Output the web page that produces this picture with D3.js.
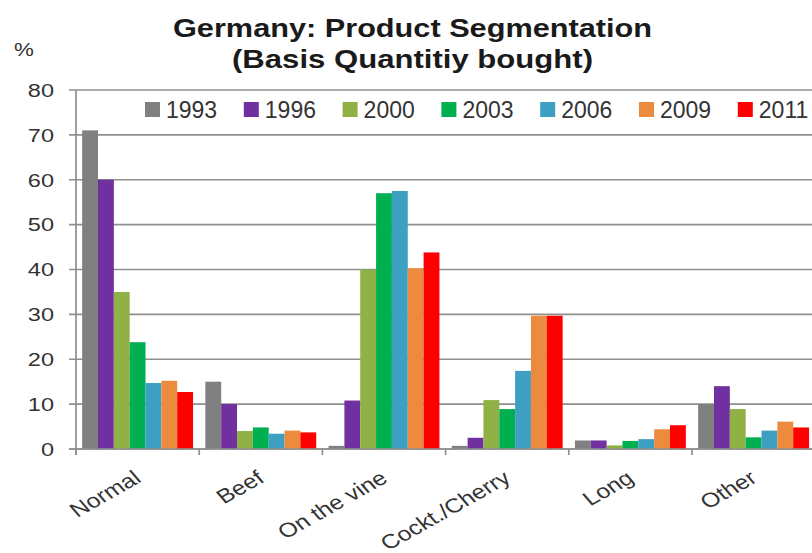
<!DOCTYPE html>
<html>
<head>
<meta charset="utf-8">
<script src="https://cdn.jsdelivr.net/npm/d3@7"></script>
<style>
  html, body { margin: 0; padding: 0; background: #fff; }
  svg { display: block; font-family: "Liberation Sans", Arial, sans-serif; }
</style>
</head>
<body>
<svg id="chart" width="812" height="553"></svg>
<script>
const categories = ["Normal", "Beef", "On the vine", "Cockt./Cherry", "Long", "Other"];
const years = ["1993", "1996", "2000", "2003", "2006", "2009", "2011"];
const v1993 = [71, 15, 0.7, 0.7, 1.9, 10];
const v1996 = [60, 10, 10.8, 2.5, 1.9, 14];
const v2000 = [35, 4, 40, 10.9, 0.8, 8.9];
const v2003 = [23.8, 4.8, 57, 8.9, 1.8, 2.6];
const v2006 = [14.7, 3.4, 57.5, 17.4, 2.2, 4.1];
const v2009 = [15.2, 4.1, 40.3, 29.7, 4.4, 6.1];
const v2011 = [12.7, 3.7, 43.8, 29.7, 5.3, 4.8];
const yTicks = [0, 10, 20, 30, 40, 50, 60, 70, 80];
const colors = ["#808080", "#7030a0", "#8fb146", "#00b050", "#3d9fc2", "#ec8a3e", "#ff0000"];

const seriesValues = [v1993, v1996, v2000, v2003, v2006, v2009, v2011];
const table = categories.map((c, i) => ({
  cat: c,
  vals: years.map((yr, j) => ({ year: yr, value: seriesValues[j][i], color: colors[j] }))
}));

const svg = d3.select("#chart");
const plotLeft = 76, plotBottom = 449, plotTop = 90;
const step = 123.2;
const stretch = 1.24;

const x0 = d3.scaleBand().domain(categories)
  .range([plotLeft, plotLeft + step * categories.length])
  .paddingInner(0.1).paddingOuter(0.05);
const x1 = d3.scaleBand().domain(years).range([0, x0.bandwidth()]);
const y = d3.scaleLinear().domain([0, 80]).range([plotBottom, plotTop]);

// gridlines
svg.append("g").selectAll("line").data(yTicks).join("line")
  .attr("x1", plotLeft - 7).attr("x2", 830)
  .attr("y1", d => y(d)).attr("y2", d => y(d))
  .attr("stroke", "#8f8f8f").attr("stroke-width", 1.7);

// y axis line
svg.append("line").attr("x1", plotLeft).attr("x2", plotLeft)
  .attr("y1", y(80)).attr("y2", plotBottom + 6)
  .attr("stroke", "#8f8f8f").attr("stroke-width", 1.7);

// y tick labels
svg.append("g").selectAll("text").data(yTicks).join("text")
  .attr("transform", d => `translate(54,${y(d)}) scale(${stretch},1)`)
  .attr("dy", "0.36em")
  .attr("text-anchor", "end").attr("font-size", 19).attr("fill", "#333")
  .text(d => d);

// % label
svg.append("text").attr("transform", `translate(14,56) scale(${stretch},1)`)
  .attr("font-size", 18).attr("fill", "#333").text("%");

// bars
const groups = svg.append("g").selectAll("g").data(table).join("g")
  .attr("transform", d => `translate(${x0(d.cat)},0)`);
groups.selectAll("rect").data(d => d.vals).join("rect")
  .attr("x", d => x1(d.year)).attr("width", x1.bandwidth())
  .attr("y", d => y(d.value)).attr("height", d => plotBottom - y(d.value))
  .attr("fill", d => d.color);

// x axis line & category ticks
svg.append("line").attr("x1", plotLeft - 7).attr("x2", 830)
  .attr("y1", plotBottom).attr("y2", plotBottom)
  .attr("stroke", "#8f8f8f").attr("stroke-width", 1.7);
const boundaries = categories.map(c => x0(c) - x0.step() * x0.paddingInner() / 2)
  .concat([x0(categories[categories.length - 1]) + x0.bandwidth() + x0.step() * x0.paddingInner() / 2]);
svg.append("g").selectAll("line").data(boundaries).join("line")
  .attr("x1", d => d).attr("x2", d => d)
  .attr("y1", plotBottom).attr("y2", plotBottom + 6)
  .attr("stroke", "#8f8f8f").attr("stroke-width", 1.7);

// category labels (rotated, horizontally stretched like the source)
svg.append("g").selectAll("text").data(categories).join("text")
  .attr("transform", c => `translate(${x0(c) + x0.bandwidth() / 2 + 5},${plotBottom + 32}) scale(${stretch},1) rotate(-35)`)
  .attr("text-anchor", "end").attr("font-size", 20).attr("fill", "#333")
  .text(c => c);

// legend
const legendX = 145, legendStep = 98.8, legendY = 110;
const leg = svg.append("g").selectAll("g").data(years).join("g")
  .attr("transform", (d, i) => `translate(${legendX + i * legendStep},${legendY})`);
leg.append("rect").attr("x", 0).attr("y", -8).attr("width", 15).attr("height", 15)
  .attr("fill", (d, i) => colors[i]);
leg.append("text").attr("x", 21).attr("y", 0).attr("dy", "0.36em")
  .attr("font-size", 23).attr("fill", "#333").text(d => d);

// title
svg.append("text").attr("x", 173).attr("y", 37)
  .attr("font-size", 25).attr("font-weight", "bold").attr("fill", "#1a1a1a")
  .attr("textLength", 479).attr("lengthAdjust", "spacingAndGlyphs")
  .text("Germany: Product Segmentation");
svg.append("text").attr("x", 232).attr("y", 68)
  .attr("font-size", 25).attr("font-weight", "bold").attr("fill", "#1a1a1a")
  .attr("textLength", 361).attr("lengthAdjust", "spacingAndGlyphs")
  .text("(Basis Quantitiy bought)");
</script>
</body>
</html>
